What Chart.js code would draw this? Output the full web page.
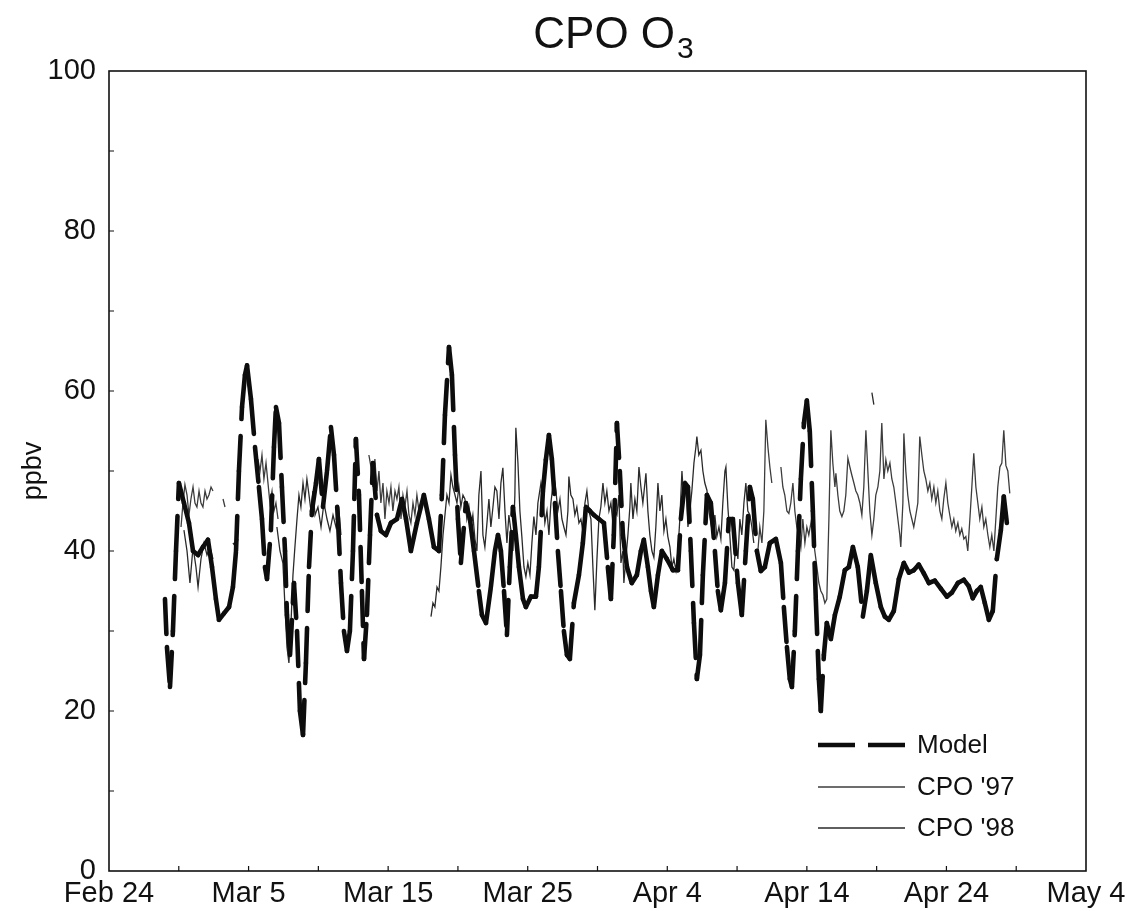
<!DOCTYPE html>
<html>
<head>
<meta charset="utf-8">
<title>CPO O3</title>
<script src="https://cdn.jsdelivr.net/npm/chart.js@4.4.1/dist/chart.umd.min.js"></script>
<style>
  html, body { margin: 0; background: #fff; }
  #wrap { width: 1127px; height: 911px; }
</style>
</head>
<body>
<div id="wrap"><canvas id="o3Chart"></canvas></div>
<script>
// x: days after Feb 24, y: ozone mixing ratio (ppbv); null marks a data gap
const tickLabels = ['Feb 24', 'Mar 5', 'Mar 15', 'Mar 25', 'Apr 4', 'Apr 14', 'Apr 24', 'May 4'];

const modelDays = [
  4.01, 4.15, 4.37, 4.58, 4.80, 5.01, 5.37, 5.73, 6.02, 6.38,
  6.73, 7.09, 7.38, 7.66, 7.88, 8.24, 8.60, 8.88, 9.10, 9.31,
  9.53, 9.74, 9.89, 10.17, 10.46, 10.74, 10.96, 11.17, 11.32, 11.60,
  11.82, 11.96, 12.18, 12.39, 12.61, 12.75, 12.97, 13.25, 13.47, 13.68,
  13.90, 14.11, 14.33, 14.54, 14.83, 15.04, 15.33, 15.62, 15.90, 16.12,
  16.40, 16.62, 16.83, 17.05, 17.26, 17.48, 17.69, 17.91, 18.12, 18.27,
  18.48, 18.70, 18.91, 19.20, 19.48, 19.84, 20.20, 20.63, 20.99, 21.28,
  21.63, 22.06, 22.56, 22.92, 23.28, 23.64, 23.85, 24.07, 24.36, 24.57,
  24.79, 25.00, 25.21, 25.57, 25.86, 26.15, 26.50, 26.72, 27.01, 27.36,
  27.65, 27.87, 28.08, 28.30, 28.51, 28.72, 28.94, 29.15, 29.37, 29.66,
  29.87, 30.23, 30.59, 30.80, 31.09, 31.30, 31.52, 31.73, 31.95, 32.16,
  32.38, 32.59, 32.81, 33.02, 33.31, 33.67, 33.95, 34.17, 34.46, 34.74,
  35.10, 35.46, 35.74, 35.96, 36.17, 36.39, 36.60, 36.82, 37.11, 37.46,
  37.82, 38.11, 38.32, 38.61, 38.83, 39.04, 39.33, 39.61, 39.97, 40.40,
  40.76, 40.97, 41.26, 41.48, 41.69, 41.91, 42.12, 42.34, 42.55, 42.84,
  43.12, 43.41, 43.62, 43.84, 44.13, 44.41, 44.70, 45.06, 45.34, 45.63,
  45.92, 46.13, 46.42, 46.70, 46.99, 47.35, 47.78, 48.14, 48.35, 48.57,
  48.78, 48.93, 49.14, 49.36, 49.57, 49.79, 50.00, 50.21, 50.43, 50.64,
  50.86, 51.00, 51.22, 51.43, 51.72, 52.01, 52.36, 52.72, 53.01, 53.30,
  53.65, 54.01, 54.30, 54.58, 54.94, 55.30, 55.59, 55.87, 56.23, 56.59,
  56.95, 57.31, 57.66, 58.02, 58.38, 58.74, 59.17, 59.60, 60.03, 60.39,
  60.82, 61.25, 61.60, 61.89, 62.18, 62.46, 62.75, 63.04, 63.32, 63.61,
  63.90, 64.11, 64.33
];
const modelO3 = [
  34, 28, 23, 30, 40, 48.5, 46, 43.5, 40, 39.5,
  40.5, 41.4, 38, 34, 31.4, 32.2, 33, 35.5, 40, 50,
  58, 62, 63.2, 59, 53, 48, 44, 38, 36.5, 42.6,
  53, 58, 56, 48, 40, 32, 27, 36, 30, 20,
  17, 26, 38, 45, 48.5, 51.5, 45.5, 50, 55.5, 52,
  44, 36, 30, 27.5, 30, 40, 54, 47, 35, 26.5,
  32, 42, 51, 44.5, 42.5, 42, 43.5, 44, 46.5, 44,
  40, 43.5, 47, 44, 40.5, 40, 47, 57, 65.5, 62,
  52, 44, 38.5, 46, 44, 40, 35, 32, 31, 35.5,
  40, 42, 40, 35, 29.5, 38, 45.5, 42, 38, 34,
  33, 34.3, 34.3, 38, 47.5, 51.4, 54.5, 51.5, 46, 40,
  35, 30, 27, 26.5, 33.5, 37, 41, 45.5, 45, 44.5,
  44, 43.5, 38, 34, 42, 56, 50, 42, 38, 36,
  37, 40, 41.4, 38, 35, 33, 37, 40, 39, 37.6,
  37.6, 44, 48.5, 48, 40, 31, 24, 27, 37, 47,
  46, 40, 35, 32.6, 36, 44, 44, 36, 32, 40,
  48, 46.5, 40, 37.5, 38, 41, 41.5, 38.5, 33, 28,
  24, 23, 30, 40, 49, 56, 58.8, 55, 45, 34,
  24, 20, 27, 31, 29, 32, 34.3, 37.6, 38, 40.5,
  38, 31.8, 35, 39.5, 36, 33, 31.8, 31.4, 32.5, 36.5,
  38.5, 37.3, 37.6, 38.3, 37.2, 36, 36.3, 35.3, 34.3, 34.8,
  36, 36.4, 35.6, 34.1, 35, 35.5, 33.5, 31.4, 32.5, 39,
  42.6, 46.8, 43.5
];

const cpo97Days = [
  5.16, 5.30, 5.44, 5.59, 5.73, 5.87, 6.02, 6.16, 6.30, 6.45,
  6.59, 6.73, 6.88, 7.02, 7.16, 7.31, 7.45, 7.60,
  8.17, 8.31, 8.50,
  10.67, 10.82, 10.96, 11.10, 11.25, 11.39, 11.53, 11.68, 11.82, 11.96, 12.11, 12.30,
  18.62, 18.77, 18.91, 19.05, 19.20, 19.34, 19.48, 19.63, 19.77, 19.91,
  20.06, 20.20, 20.34, 20.49, 20.63, 20.77, 20.92, 21.06, 21.20, 21.35,
  21.49, 21.63, 21.78, 21.92, 22.06, 22.21, 22.35, 22.60,
  46.49, 46.63, 46.78, 46.92, 47.06, 47.21, 47.35, 47.49, 47.80,
  48.14, 48.28, 48.42, 48.57, 48.71, 48.85, 49.00, 49.14, 49.28, 49.43,
  49.57, 49.71, 49.86, 50.00, 50.14, 50.29, 50.43, 50.57, 50.72, 50.86,
  51.00, 51.15, 51.29, 51.43, 51.58, 51.72, 51.86, 52.01,
  52.08, 52.22, 52.36, 52.51, 52.65, 52.79, 52.94, 53.08, 53.22, 53.37,
  53.51, 53.65, 53.80, 53.94, 54.08, 54.23, 54.37, 54.51, 54.66, 54.80,
  54.94, 55.09, 55.23, 55.37, 55.52, 55.66, 55.80, 55.95, 56.09, 56.23,
  56.38, 56.52, 56.66,
  56.73, 56.88,
  56.95, 57.09, 57.23, 57.38, 57.52, 57.66, 57.81, 57.95, 58.09, 58.24,
  58.38, 58.52, 58.67, 58.81, 58.95, 59.10, 59.24, 59.38, 59.53, 59.67,
  59.81, 59.96, 60.10, 60.24, 60.39, 60.53, 60.67, 60.82, 60.96, 61.10,
  61.25, 61.39, 61.53, 61.68, 61.82, 61.96, 62.11, 62.25, 62.39, 62.54,
  62.68, 62.82, 62.97, 63.11, 63.25, 63.40, 63.54, 63.68, 63.83, 63.97,
  64.11, 64.26, 64.40, 64.54
];
const cpo97O3 = [
  43, 46, 48.3, 47, 44.5, 46.5, 48, 46, 45.5, 47.5,
  46, 45.5, 47.5, 46.5, 47, 48, 47.5, null,
  46.5, 45.5, null,
  51.5, 50, 52, 49, 51, 48.5, 46, 47.5, 45, 46, 44, null,
  52, 50.5, 48, 51.5, 47.5, 50, 46, 48.5, 44, 47.5,
  46, 48, 45, 47.5, 46.5, 48, 44, 47, 45.5, 47.5,
  44.5, 43.5, 46, 44.5, 47, 45, 46, null,
  40, 43, 41, 45, 56.4, 53, 50.5, 48.5, null,
  50.5, 48, 47, 45, 44.7, 46, 48.5, 45, 43, 42,
  40.5, 44, 41, 43, 42, 43.5, 42, 40, 38, 36,
  35, 34.5, 33.5, 34, 44, 55.1, 51, 48,
  49.7, 47, 45, 44.3, 45, 47, 51.6, 50.5, 49.5, 48.5,
  47.5, 47, 46, 44.5, 48, 55.1, 50, 45, 42, 44,
  47, 48, 50, 56, 49, 51.4, 50, 51, 49, 48,
  46, 44, 42,
  40.5, 46,
  54.7, 50, 47, 45, 44, 43, 44.5, 46, 54.3, 52,
  50, 49, 47.5, 48.5, 46.5, 48, 46, 47.5, 45, 44,
  46.5, 48.5, 46, 44.5, 43, 44, 42.5, 43.5, 42, 42.8,
  41.5, 41.8, 40, 44, 48, 52.2, 48, 46, 44, 45.5,
  43, 44, 42, 40.5, 42, 40, 44, 48, 50.5, 51,
  55.1, 50.7, 50, 47.2
];

const cpo98Days = [
  5.37, 5.59, 5.80, 6.02, 6.23, 6.38, 6.59, 6.81, 7.02, 7.23, 7.45, 7.60,
  8.88, 9.10, 9.24, 9.40,
  12.03, 12.25, 12.46, 12.61, 12.75, 12.89, 13.04, 13.18, 13.32, 13.47,
  13.61, 13.75, 13.90, 14.04, 14.18, 14.33, 14.47, 14.61, 14.76, 14.97,
  15.19, 15.40, 15.62, 15.83, 16.05, 16.26, 16.48, 16.62, 16.80,
  23.07, 23.21, 23.35, 23.50, 23.64, 23.78, 23.93, 24.07, 24.21, 24.36,
  24.50, 24.64, 24.79, 24.93, 25.07, 25.21, 25.36, 25.50, 25.64, 25.79,
  25.93, 26.07, 26.22, 26.36, 26.50, 26.65, 26.79, 26.93, 27.08, 27.22,
  27.36, 27.51, 27.65, 27.79, 27.94, 28.08, 28.22, 28.37, 28.51, 28.65,
  28.80, 28.94, 29.08, 29.15, 29.30, 29.44, 29.58, 29.73, 29.87, 30.01,
  30.16, 30.30, 30.44, 30.59, 30.73, 30.95, 31.09, 31.23, 31.38, 31.52,
  31.66, 31.88, 32.02, 32.16, 32.31, 32.45, 32.59, 32.74, 32.88, 32.95,
  33.09, 33.24, 33.38, 33.52, 33.67, 33.81, 33.95, 34.10, 34.24, 34.38,
  34.53, 34.67, 34.81, 34.96, 35.10, 35.24, 35.39, 35.53, 35.67, 35.82,
  35.96, 36.10, 36.25, 36.39, 36.53, 36.68, 36.82, 36.89, 37.03, 37.18,
  37.32, 37.39, 37.54, 37.68, 37.82, 37.97, 38.11, 38.25, 38.47, 38.61,
  38.75, 38.90, 39.04, 39.18, 39.33, 39.47, 39.61, 39.76, 39.90, 40.04,
  40.19, 40.33, 40.47, 40.62, 40.76, 40.90, 41.05, 41.19, 41.33, 41.48,
  41.62, 41.76, 41.91, 42.05, 42.12, 42.26, 42.41, 42.55, 42.69, 42.84,
  42.98, 43.12, 43.27, 43.41, 43.55, 43.70, 43.84, 43.98, 44.13, 44.20,
  44.34, 44.48, 44.63, 44.77, 44.91, 45.06, 45.20, 45.34, 45.49, 45.63,
  45.77, 45.92, 46.06, 46.20, 46.30,
  54.66, 54.80
];
const cpo98O3 = [
  42.6, 40, 36, 40.5, 38, 35.5, 39, 41, 39.5, 40.5, 39, null,
  41, 40.5, 41.5, null,
  43, 40, 38.5, 33, 28, 26, 31, 37, 40.5, 44,
  47, 45.5, 48.5, 46.5, 49, 47, 45, 47.5, 44.5, 45.5,
  43, 46, 44, 42.5, 44.5, 43, 45, 42, null,
  31.8, 33.5, 33, 35.5, 35, 38, 42, 44.5, 47, 46,
  49.5, 48, 47, 46, 48, 45.5, 47, 46.5, 44, 45.5,
  43, 44.5, 41.5, 40, 47, 50, 42, 40.5, 43.5, 46.5,
  43, 45.5, 48, 47.5, 44, 48.5, 50.4, 45, 41, 44.5,
  42.5, 40, 47, 55.4, 51, 45, 41.8, 38, 36.8, 38.5,
  37, 41, 44.3, 42, 46, 48.5, 47, 43.5, 45, 42,
  46, 49.3, 47.5, 45, 46.5, 44, 43, 42, 45, 49.3,
  47, 46.5, 44.5, 45.5, 43.5, 44, 42.5, 46, 47.5, 45,
  44, 38, 32.6, 39, 44, 45.5, 48.5, 46, 47.5, 45,
  46, 43.5, 45, 44.5, 47, 38.5, 40, 36, 39, 42,
  45.5, 48.5, 44, 46.5, 45, 50.5, 48, 46, 49.7, 45,
  42, 40, 39.2, 43, 48.5, 45, 47, 42.5, 44, 41.8,
  40.5, 38, 39, 37.6, 40, 44, 50, 46, 48.5, 43,
  45, 47.5, 51, 53, 54.3, 52, 52.6, 50, 48.5, 47.6,
  45, 43.5, 42, 44.5, 41.8, 43, 41.5, 46, 50, 50.5,
  45.5, 42, 38, 37.6, 41, 39, 44, 42, 46, 48.5,
  45, 44.5, 43, 41, null,
  59.8, 58.3
];

const FONT = '"Liberation Sans", Arial, Helvetica, sans-serif';
const modelDash = [35, 17];

function toPoints(days, vals) {
  return days.map((d, i) => ({ x: d, y: vals[i] }));
}

// frame around the plot plus short inward tick marks
const framePlugin = {
  id: 'frame',
  afterDatasetsDraw(chart) {
    const { ctx, chartArea: a, scales: { x, y } } = chart;
    ctx.save();
    ctx.strokeStyle = '#111';
    ctx.lineWidth = 1.6;
    ctx.strokeRect(a.left, a.top, a.right - a.left, a.bottom - a.top);
    ctx.lineWidth = 1.2;
    ctx.beginPath();
    for (let d = 5; d < 70; d += 5) {
      const px = x.getPixelForValue(d);
      ctx.moveTo(px, a.bottom);
      ctx.lineTo(px, a.bottom - 5);
    }
    for (let v = 10; v < 100; v += 10) {
      const py = y.getPixelForValue(v);
      ctx.moveTo(a.left, py);
      ctx.lineTo(a.left + 5, py);
    }
    ctx.stroke();
    ctx.restore();
  }
};

// "CPO O3" with a subscript 3
const titlePlugin = {
  id: 'o3Title',
  afterDraw(chart) {
    const { ctx, chartArea: a } = chart;
    const main = 'CPO O', sub = '3';
    ctx.save();
    ctx.fillStyle = '#111';
    ctx.textBaseline = 'alphabetic';
    ctx.font = '44px ' + FONT;
    const w1 = ctx.measureText(main).width;
    ctx.font = '30px ' + FONT;
    const w2 = ctx.measureText(sub).width;
    const x0 = (a.left + a.right) / 2 + 16 - (w1 + w2 + 2) / 2;
    ctx.font = '44px ' + FONT;
    ctx.fillText(main, x0, 48);
    ctx.font = '30px ' + FONT;
    ctx.fillText(sub, x0 + w1 + 2, 58);
    ctx.restore();
  }
};

// legend in the lower right corner of the plot
const legendPlugin = {
  id: 'cornerLegend',
  afterDraw(chart) {
    const { ctx, chartArea: a } = chart;
    const rows = [a.bottom - 126, a.bottom - 84, a.bottom - 43];
    chart.data.datasets.forEach((ds, i) => {
      const y = rows[i];
      ctx.save();
      ctx.strokeStyle = ds.borderColor;
      ctx.lineWidth = i === 0 ? ds.borderWidth : 1.5;
      ctx.lineCap = 'butt';
      ctx.setLineDash(i === 0 ? [37, 13] : []);
      ctx.beginPath();
      ctx.moveTo(a.right - 268, y);
      ctx.lineTo(a.right - 181, y);
      ctx.stroke();
      ctx.setLineDash([]);
      ctx.fillStyle = '#111';
      ctx.font = '26px ' + FONT;
      ctx.textBaseline = 'middle';
      ctx.fillText(ds.label, a.right - 169, y + 1);
      ctx.restore();
    });
  }
};

Chart.defaults.font.family = FONT;
Chart.defaults.color = '#111';

new Chart(document.getElementById('o3Chart'), {
  type: 'line',
  data: {
    datasets: [
      {
        label: 'Model',
        data: toPoints(modelDays, modelO3),
        borderColor: '#0d0d0d',
        borderWidth: 4.6,
        borderDash: modelDash,
        borderCapStyle: 'round',
        borderJoinStyle: 'round',
        pointRadius: 0,
        // restart the dash pattern on every segment between samples
        segment: {
          borderDash: () => modelDash,
          borderDashOffset: ctx => ctx.p0DataIndex * 1e-4
        }
      },
      {
        label: "CPO '97",
        data: toPoints(cpo97Days, cpo97O3),
        borderColor: '#3c3c3c',
        borderWidth: 1.3,
        pointRadius: 0
      },
      {
        label: "CPO '98",
        data: toPoints(cpo98Days, cpo98O3),
        borderColor: '#2a2a2a',
        borderWidth: 1.3,
        pointRadius: 0
      }
    ]
  },
  options: {
    responsive: true,
    maintainAspectRatio: false,
    animation: false,
    layout: { padding: { top: 71, right: 41, bottom: 0, left: 0 } },
    plugins: {
      legend: { display: false },
      title: { display: false },
      tooltip: { enabled: false }
    },
    scales: {
      x: {
        type: 'linear',
        min: 0,
        max: 70,
        afterFit: scale => {
          scale.height = 40;
          scale.paddingLeft = 0;
          scale.paddingRight = 0;
        },
        grid: { display: false, drawTicks: false },
        border: { display: false },
        ticks: {
          stepSize: 10,
          padding: 6,
          maxRotation: 0,
          font: { size: 29 },
          callback: v => tickLabels[Math.round(v / 10)]
        }
      },
      y: {
        min: 0,
        max: 100,
        afterFit: scale => { scale.width = 109; },
        grid: { display: false, drawTicks: false },
        border: { display: false },
        ticks: { stepSize: 20, padding: 13, font: { size: 29 } },
        title: {
          display: true,
          text: 'ppbv',
          font: { size: 27 },
          padding: { top: 17, bottom: 0 }
        }
      }
    }
  },
  plugins: [framePlugin, titlePlugin, legendPlugin]
});
</script>
</body>
</html>
